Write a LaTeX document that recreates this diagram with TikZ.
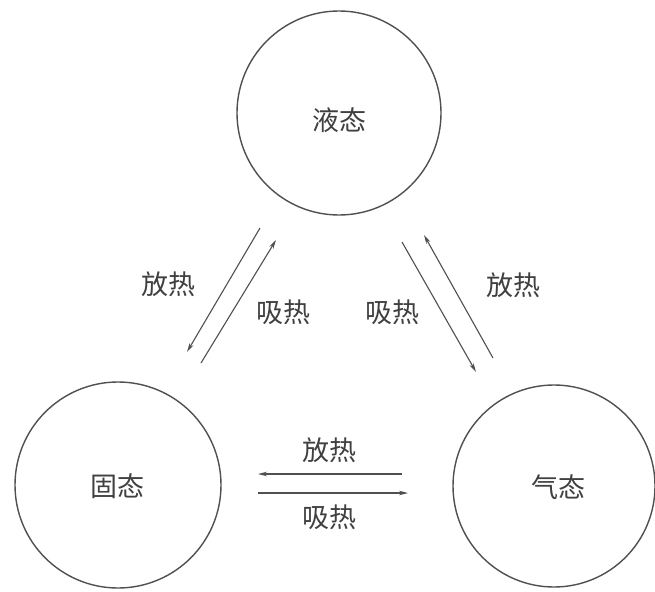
\documentclass[tikz,border=0pt]{standalone}
\usepackage{fontspec}
\newfontfamily\cjk{Noto Sans CJK SC}
\usetikzlibrary{arrows.meta}
\definecolor{ink}{HTML}{505050}
\definecolor{txt}{HTML}{404040}
\tikzset{
  state/.style={circle, draw=ink, line width=1.4pt, inner sep=0pt, minimum size=#1},
  lbl/.style={font=\cjk\fontsize{27}{30}\selectfont, text=txt, inner sep=0pt},
  flow/.style={draw=ink, line width=1.1pt, -{Stealth[length=9pt,width=4.5pt]}}
}
\begin{document}
\begin{tikzpicture}[x=1pt,y=-1pt]
\useasboundingbox[fill=white] (0,0) rectangle (655,591);
% states
\node[state=204pt] (liq) at (339,113) {};
\node[state=206pt] (sol) at (118,485) {};
\node[state=202pt] (gas) at (554,486) {};
\node[lbl] (tliq) at (339,120) {液态};
\node[lbl] (tsol) at (117,486) {固态};
\node[lbl] (tgas) at (558,487) {气态};
% endpoints
\coordinate (a1s) at (260,228); \coordinate (a1e) at (187,352);
\coordinate (a2s) at (201,363); \coordinate (a2e) at (276,240);
\coordinate (a3s) at (402,242); \coordinate (a3e) at (476,372);
\coordinate (a4s) at (493,358); \coordinate (a4e) at (424,235);
\coordinate (a5s) at (402,474); \coordinate (a5e) at (258,474);
\coordinate (a6s) at (258,493); \coordinate (a6e) at (408,493);
\draw[flow] (a1s) -- (a1e);
\draw[flow] (a2s) -- (a2e);
\draw[flow] (a3s) -- (a3e);
\draw[flow] (a4s) -- (a4e);
\draw[flow] (a5s) -- (a5e);
\draw[flow] (a6s) -- (a6e);
% labels
\node[lbl] (l1) at (168,284) {放热};
\node[lbl] (l2) at (283,312) {吸热};
\node[lbl] (l3) at (392,312) {吸热};
\node[lbl] (l4) at (513,285) {放热};
\node[lbl] (l5) at (329,450) {放热};
\node[lbl] (l6) at (329,517) {吸热};
\end{tikzpicture}
\end{document}
